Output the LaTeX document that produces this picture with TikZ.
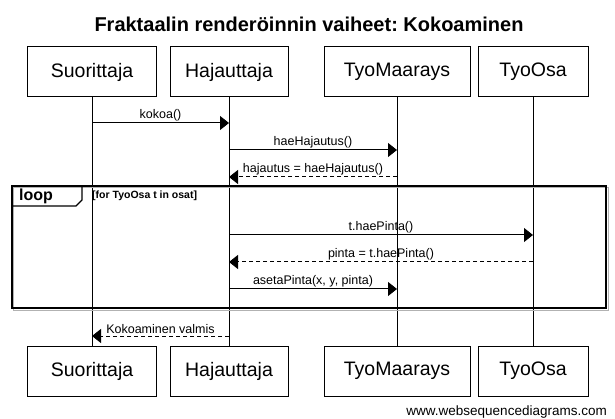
\documentclass[tikz,border=0pt]{standalone}
\usepackage{fontspec}
\setmainfont{Liberation Sans}
\usepackage{tikz}
\usetikzlibrary{positioning, arrows.meta, calc}
\frenchspacing

\begin{document}
\begin{tikzpicture}[x=1pt, y=-1pt,
  actor/.style={draw, line width=1pt, minimum height=50pt, inner sep=0pt, font=\fontsize{19.5}{22}\selectfont},
  msg/.style={line width=1pt, -{Triangle[length=9pt, width=14pt]}},
  reply/.style={msg, dash pattern=on 4pt off 3pt},
  lbl/.style={font=\fontsize{12.5}{14}\selectfont, inner sep=1.5pt}]
  \useasboundingbox (0,0) rectangle (615,419);
  % Title
  \node[font=\bfseries\fontsize{20}{22}\selectfont] (title) at (309,24) {Fraktaalin renderöinnin vaiheet: Kokoaminen};
  % Participants, top and bottom
  \node[actor, minimum width=129pt] (suo) at (92,72) {Suorittaja};
  \node[actor, minimum width=118pt] (haj) at (229,72) {Hajauttaja};
  \node[actor, minimum width=146pt] (tmr) at (397,72) {TyoMaarays};
  \node[actor, minimum width=110pt] (tos) at (533,72) {TyoOsa};
  \node[actor, minimum width=129pt] (suo2) at (92,371) {Suorittaja};
  \node[actor, minimum width=118pt] (haj2) at (229,371) {Hajauttaja};
  \node[actor, minimum width=146pt] (tmr2) at (397,371) {TyoMaarays};
  \node[actor, minimum width=110pt] (tos2) at (533,371) {TyoOsa};
  % Lifelines
  \foreach \p in {suo, haj, tmr, tos}
    \draw[line width=1pt] (\p) -- (\p2);
  % Loop frame
  \draw[gray!60, line width=1pt] (13.5,188) rectangle (608,310);
  \draw[line width=1.6pt] (12,186) rectangle (606,308);
  \draw[line width=1.2pt] (12,186) -- (82,186) -- (82,200) -- (76,206) -- (12,206);
  \node[font=\bfseries\fontsize{16}{18}\selectfont, anchor=west, inner sep=0pt] (loop) at (19,196) {loop};
  \node[font=\bfseries\fontsize{10.5}{12}\selectfont, anchor=west, inner sep=0pt] (guard) at (92,196) {[for TyoOsa t in osat]};
  % Messages
  \foreach \y/\a/\b/\sty/\txt in {123/suo/haj/msg/{kokoa()},
      150/haj/tmr/msg/{haeHajautus()},
      177/tmr/haj/reply/{hajautus = haeHajautus()},
      235/haj/tos/msg/{t.haePinta()},
      262/tos/haj/reply/{pinta = t.haePinta()},
      289/haj/tmr/msg/{asetaPinta(x, y, pinta)},
      336/haj/suo/reply/{Kokoaminen valmis}}
    \draw[\sty] (\a |- 0,\y) -- node[lbl, above] {\txt} (\b |- 0,\y);
  % Footer
  \node[anchor=base east, inner sep=0pt, font=\fontsize{13.5}{15}\selectfont] (wsd) at (607,415) {www.websequencediagrams.com};
\end{tikzpicture}
\end{document}
